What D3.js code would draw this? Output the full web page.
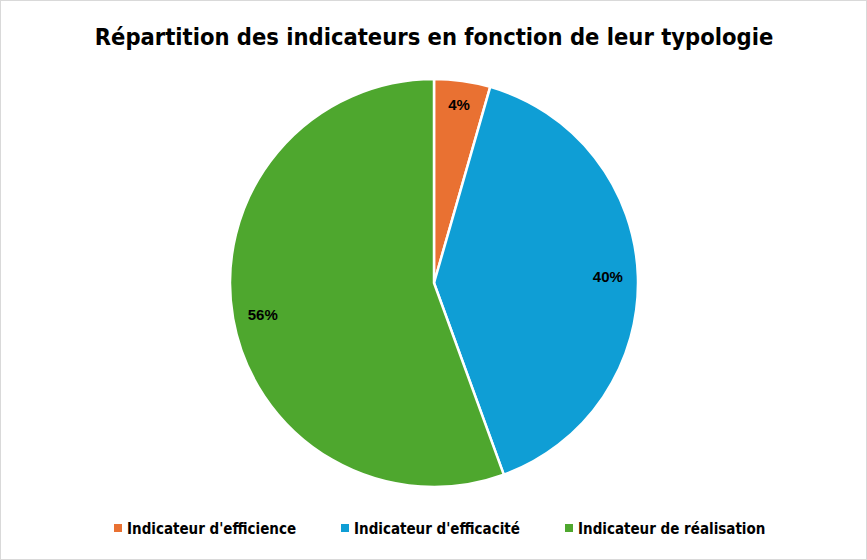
<!DOCTYPE html>
<html><head><meta charset="utf-8">
<script src="https://cdn.jsdelivr.net/npm/d3@7"></script>
<style>
body{margin:0;background:#fff;}
svg{display:block;}
</style></head>
<body>
<svg id="chart" width="867" height="560"></svg>
<script>
const title = "Répartition des indicateurs en fonction de leur typologie";
const categories = ["Indicateur d'efficience", "Indicateur d'efficacité", "Indicateur de réalisation"];
const values = [2, 18, 25];
const labels = ["4%", "40%", "56%"];
const colors = ["#E97132", "#0F9ED5", "#4EA72E"];

const svg = d3.select("#chart");
const W = 867, H = 560;
svg.append("rect").attr("x",0.5).attr("y",0.5).attr("width",W-1).attr("height",H-1)
  .attr("fill","#fff").attr("stroke","#d9d9d9");

const condensed = "'Liberation Sans Narrow','DejaVu Sans Condensed','Arial Narrow',sans-serif";
svg.append("text").attr("x",434).attr("y",45).attr("text-anchor","middle")
  .attr("font-family",condensed).attr("font-weight","bold").attr("font-size",23.5)
  .attr("fill","#000").text(title);

const cx = 434, cy = 283, R = 204;
const pie = d3.pie().sort(null).value(d=>d)(values);
const arc = d3.arc().innerRadius(0).outerRadius(R);
const g = svg.append("g").attr("transform",`translate(${cx},${cy})`);
g.selectAll("path").data(pie).enter().append("path")
  .attr("d",arc).attr("fill",(d,i)=>colors[i])
  .attr("stroke","#fff").attr("stroke-width",2.5).attr("stroke-linejoin","round");

const labelArc = d3.arc().innerRadius(180).outerRadius(180);
g.selectAll("text.lbl").data(pie).enter().append("text")
  .attr("class","lbl")
  .attr("transform",(d,i)=>{const c=labelArc.centroid(d); const dx=[0,-6,6][i]; return `translate(${c[0]+dx},${c[1]})`;})
  .attr("text-anchor","middle").attr("dominant-baseline","central")
  .attr("font-family","'Liberation Sans',Arial,sans-serif").attr("font-weight","bold").attr("font-size",15)
  .attr("fill","#000").text((d,i)=>labels[i]);

const legX = [114, 341, 565];
const leg = svg.append("g");
categories.forEach((c,i)=>{
  leg.append("rect").attr("x",legX[i]).attr("y",524).attr("width",8).attr("height",8).attr("fill",colors[i]);
  leg.append("text").attr("x",legX[i]+13).attr("y",534)
    .attr("font-family",condensed).attr("font-weight","bold").attr("font-size",15)
    .attr("fill","#000").text(c);
});
</script>
</body></html>
